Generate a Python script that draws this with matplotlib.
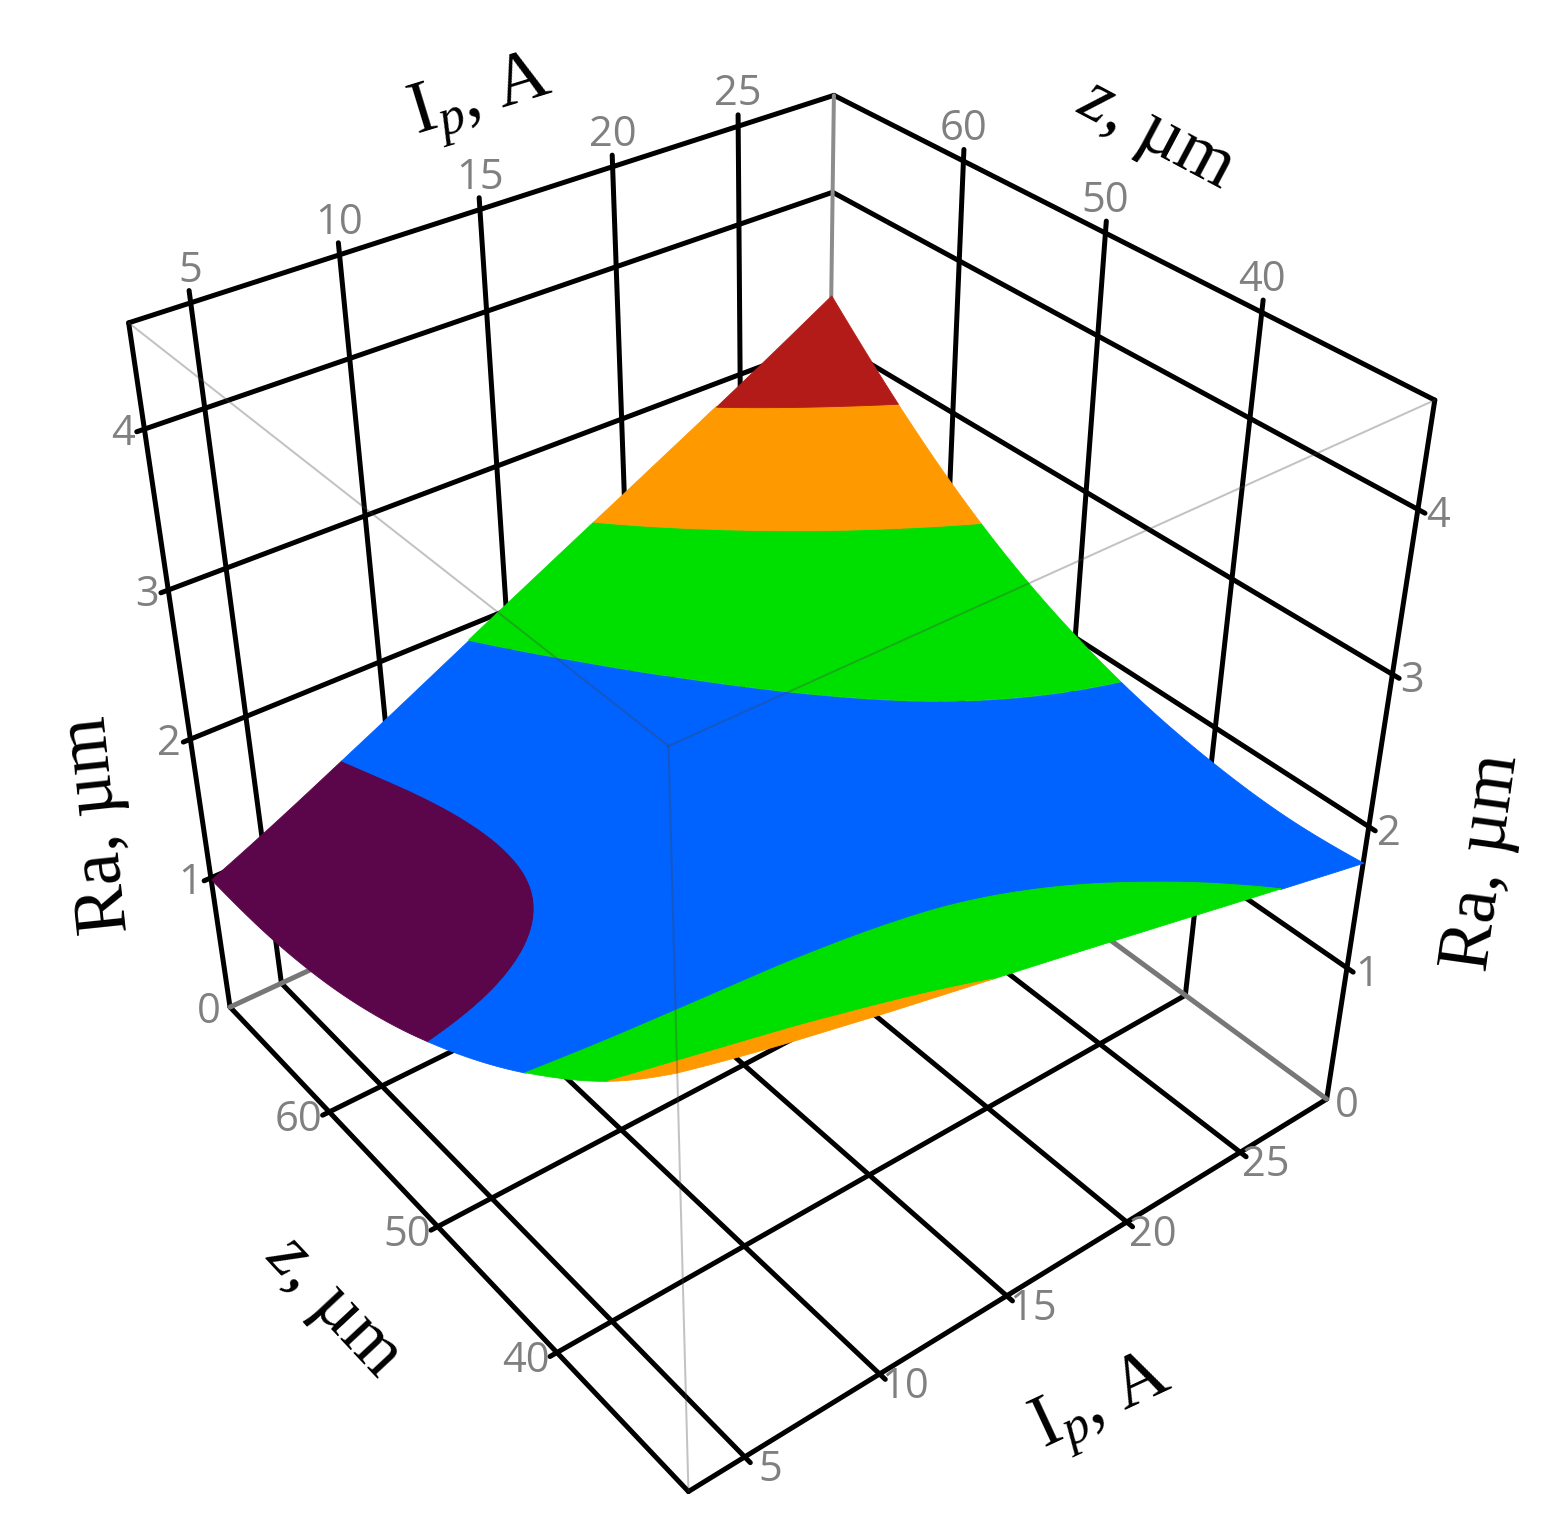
import numpy as np
import matplotlib
matplotlib.use("Agg")
import matplotlib.pyplot as plt
import matplotlib.tri as mtri
from mpl_toolkits.mplot3d import proj3d
from mpl_toolkits.mplot3d.art3d import Poly3DCollection

plt.rcParams["mathtext.fontset"] = "custom"
plt.rcParams["mathtext.rm"] = "Liberation Serif"
plt.rcParams["mathtext.it"] = "Liberation Serif:italic"

# Axis ranges and ticks
ip_range = (3, 29)
z_range = (30, 70)
ra_range = (0, 4.62)
ip_ticks = [5, 10, 15, 20, 25]
z_ticks = [40, 50, 60]
ra_ticks = [0, 1, 2, 3, 4]

# Surface: one row per Ip, one column per z
ip_values = [3, 5, 7, 9, 11, 13, 15, 17, 19, 21, 23, 25, 27, 29]
z_values = [30, 34, 38, 42, 46, 50, 54, 58, 62, 66, 70]
ra_values = [
    [2.829, 2.443, 2.118, 1.838, 1.598, 1.395, 1.230, 1.107, 1.028, 0.990, 0.988],
    [2.729, 2.373, 2.075, 1.823, 1.608, 1.431, 1.292, 1.194, 1.140, 1.128, 1.151],
    [2.639, 2.312, 2.042, 1.816, 1.627, 1.475, 1.362, 1.290, 1.261, 1.274, 1.323],
    [2.555, 2.257, 2.014, 1.814, 1.651, 1.524, 1.436, 1.390, 1.387, 1.426, 1.500],
    [2.474, 2.204, 1.989, 1.815, 1.677, 1.576, 1.513, 1.493, 1.516, 1.581, 1.679],
    [2.395, 2.153, 1.964, 1.815, 1.703, 1.628, 1.591, 1.596, 1.645, 1.735, 1.860],
    [2.316, 2.101, 1.938, 1.816, 1.729, 1.678, 1.667, 1.698, 1.773, 1.889, 2.040],
    [2.236, 2.049, 1.912, 1.814, 1.753, 1.727, 1.742, 1.798, 1.900, 2.042, 2.219],
    [2.155, 1.995, 1.883, 1.811, 1.775, 1.775, 1.815, 1.898, 2.025, 2.195, 2.397],
    [2.074, 1.940, 1.854, 1.807, 1.796, 1.821, 1.887, 1.996, 2.150, 2.346, 2.575],
    [1.992, 1.885, 1.824, 1.803, 1.817, 1.868, 1.959, 2.095, 2.276, 2.499, 2.754],
    [1.911, 1.830, 1.795, 1.798, 1.838, 1.914, 2.032, 2.195, 2.403, 2.653, 2.936],
    [1.831, 1.775, 1.766, 1.795, 1.860, 1.963, 2.107, 2.297, 2.532, 2.810, 3.121],
    [1.752, 1.723, 1.739, 1.794, 1.884, 2.014, 2.185, 2.402, 2.666, 2.972, 3.310],
]
band_levels = [0.5, 1.43, 1.90, 2.37, 2.84, 3.5]
band_colors = ["#5b054b", "#0062ff", "#00e000", "#ff9900", "#b31b18"]

W, H = 1552, 1539
PX = 72 / 100  # one pixel in points
BLACK_LW = 5 * PX
TICK_COLOR = "#808080"
TICK_SIZE = 30
TITLE_SIZE = 53


# Straight line between two 3D points
def line(ax, a, b, color="black", lw=BLACK_LW, zorder=1, alpha=None):
    ax.plot([a[0], b[0]], [a[1], b[1]], [a[2], b[2]], color=color, lw=lw,
            zorder=zorder, alpha=alpha, solid_capstyle="round", clip_on=False)


# Tick label placed a few pixels away from its 3D anchor
def tick_label(ax, text, x, y, z, dx, dy):
    xy = proj3d.proj_transform(x, y, z, ax.get_proj())[:2]
    ax.annotate(str(text), xy=xy, xytext=(dx * PX, -dy * PX), textcoords="offset points",
                ha="center", va="center", color=TICK_COLOR, fontsize=TICK_SIZE,
                family="Open Sans", annotation_clip=False, zorder=5)


# Colour bands of the surface: filled contours lifted to the surface height
def draw_surface(ax):
    ip_grid, z_grid = np.meshgrid(ip_values, z_values, indexing="ij")
    ra = np.array(ra_values)
    triang = mtri.Triangulation(ip_grid.ravel(), z_grid.ravel())
    interp = mtri.CubicTriInterpolator(triang, ra.ravel(), kind="min_E")
    fine_tri, fine_ra = mtri.UniformTriRefiner(triang).refine_field(ra.ravel(), triinterpolator=interp, subdiv=3)

    tmp_fig, tmp_ax = plt.subplots()
    bands = tmp_ax.tricontourf(fine_tri, fine_ra, levels=band_levels)
    center = (np.mean(ip_range), np.mean(z_range))
    for path, color in zip(bands.get_paths(), band_colors):
        polys = []
        for poly in path.to_polygons():
            # pull the vertices a hair inside so that border points stay in the mesh
            xs = poly[:, 0] + (center[0] - poly[:, 0]) * 1e-6
            ys = poly[:, 1] + (center[1] - poly[:, 1]) * 1e-6
            polys.append(np.column_stack([xs, ys, np.ma.filled(interp(xs, ys), ra_range[0])]))
        col = Poly3DCollection(polys, facecolors=color, edgecolors=color, linewidths=0.6, zorder=2)
        ax.add_collection3d(col, autolim=False)
    plt.close(tmp_fig)


def draw_box(ax):
    i0, i1 = ip_range
    z0, z1 = z_range
    r0, r1 = ra_range
    i_stub, z_stub, r_stub = 0.25, 0.4, 0.07

    # Back walls, horizontal lines
    for r in ra_ticks[1:]:
        line(ax, (i0 - i_stub, z1, r), (i1, z1, r))
        line(ax, (i1, z0 - z_stub, r), (i1, z1, r))
    # Back walls, vertical lines with a stub over the top edge
    for i in ip_ticks:
        line(ax, (i, z1, r0), (i, z1, r1 + r_stub))
    for z in z_ticks:
        line(ax, (i1, z, r0), (i1, z, r1 + r_stub))
    # Floor
    for i in ip_ticks:
        line(ax, (i, z0 - z_stub, r0), (i, z1, r0))
    for z in z_ticks:
        line(ax, (i0 - i_stub, z, r0), (i1, z, r0))
    # Box edges
    line(ax, (i0, z0, r0), (i1, z0, r0))
    line(ax, (i0, z0, r0), (i0, z1, r0))
    line(ax, (i0, z1, r0), (i0, z1, r1))
    line(ax, (i1, z0, r0), (i1, z0, r1))
    line(ax, (i0, z1, r1), (i1, z1, r1))
    line(ax, (i1, z0, r1), (i1, z1, r1))
    # Back edges are grey
    line(ax, (i1, z1, r0), (i1, z1, r1), color="#8c8c8c", lw=4 * PX)
    line(ax, (i0, z1, r0), (i1, z1, r0), color="#777777", lw=5 * PX)
    line(ax, (i1, z0, r0), (i1, z1, r0), color="#777777", lw=5 * PX)


# Thin front edges lie over the surface
def draw_front_edges(ax):
    i0, i1 = ip_range
    z0, z1 = z_range
    r0, r1 = ra_range
    style = dict(color="#444444", lw=2 * PX, zorder=3, alpha=0.32)
    line(ax, (i0, z0, r0), (i0, z0, r1), **style)
    line(ax, (i0, z0, r1), (i1, z0, r1), **style)
    line(ax, (i0, z0, r1), (i0, z1, r1), **style)


def draw_tick_labels(ax):
    i0, i1 = ip_range
    z0, z1 = z_range
    r0, r1 = ra_range
    for i in ip_ticks:
        tick_label(ax, i, i, z1, r1, 0, -32)
        tick_label(ax, i, i, z0, r0, 26, 13)
    for z in z_ticks:
        tick_label(ax, z, i1, z, r1, 0, -32)
        tick_label(ax, z, i0, z, r0, -31, 8)
    for r in ra_ticks:
        tick_label(ax, r, i0, z1, r, -21, 5)
        tick_label(ax, r, i1, z0, r, 20, 7)


def draw_titles(fig):
    ip_title = r"I$_{\mathit{p}}$, A"
    z_title = r"$\mathit{z}$, µm"
    ra_title = "Ra, µm"
    titles = [
        (ip_title, 481, 100, 17),
        (ip_title, 1103, 1405, 25),
        (z_title, 1155, 136, -28),
        (z_title, 333, 1308, -47),
        (ra_title, 98, 825, 96),
        (ra_title, 1484, 862, 82),
    ]
    for text, x, y, rot in titles:
        fig.text(x / W, 1 - y / H, text, rotation=rot, rotation_mode="anchor", ha="center", va="center",
                 family="Liberation Serif", fontsize=TITLE_SIZE, color="black")


def main():
    fig = plt.figure(figsize=(W / 100, H / 100), dpi=100)
    ax = fig.add_axes([0, 0, 1, 1], projection="3d", computed_zorder=False)
    ax.set_axis_off()
    ax.set_xlim(*ip_range)
    ax.set_ylim(*z_range)
    ax.set_zlim(*ra_range)
    ax.view_init(35.979, -127.890, 0.093)
    ax.set_proj_type("persp", focal_length=0.3706)
    ax.set_box_aspect((1, 1.0032, 1.0003))

    # Put the view so that one unit of the projection is 7715.5 px, centred at (767.1, 736.5)
    scale, cx, cy = 7715.5, 767.1, 736.5
    x0, x1 = ax.viewLim.intervalx
    y0, y1 = ax.viewLim.intervaly
    ax.set_position([(cx + scale * x0) / W, (H - cy + scale * y0) / H,
                     scale * (x1 - x0) / W, scale * (y1 - y0) / H])

    draw_box(ax)
    draw_surface(ax)
    draw_front_edges(ax)
    draw_tick_labels(ax)
    draw_titles(fig)
    fig.savefig("out.png", dpi=100)


if __name__ == "__main__":
    main()
